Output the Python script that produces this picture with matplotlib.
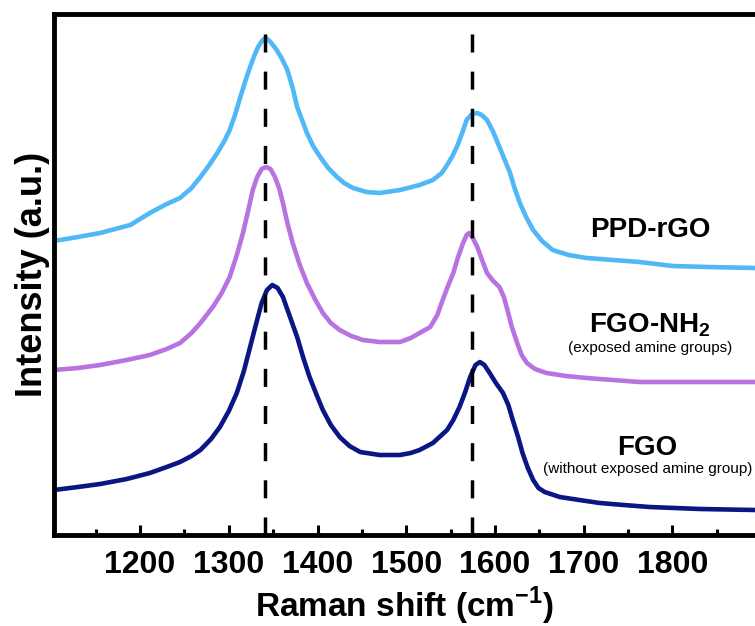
import matplotlib
matplotlib.use('Agg')
import matplotlib.pyplot as plt
from matplotlib.ticker import MultipleLocator

plt.rcParams['font.family'] = 'Liberation Sans'
plt.rcParams['mathtext.fontset'] = 'custom'
plt.rcParams['mathtext.rm'] = 'Liberation Sans'
plt.rcParams['mathtext.bf'] = 'Liberation Sans:bold'

# Raman shift (cm-1) / offset intensity (a.u.)
ppd_x = [1103, 1130, 1155, 1189, 1211, 1230, 1245, 1258, 1268, 1278, 1287,
         1295, 1301, 1307, 1313, 1319, 1324, 1329, 1333, 1338, 1342, 1347,
         1354, 1360, 1366, 1372, 1377, 1383, 1388, 1395, 1403, 1412, 1422,
         1430, 1440, 1455, 1470, 1493, 1515, 1530, 1540, 1546, 1552, 1557,
         1563, 1568, 1574, 1580, 1585, 1591, 1598, 1605, 1611, 1617, 1622,
         1628, 1635, 1643, 1653, 1665, 1683, 1703, 1733, 1763, 1800, 1840,
         1893]
ppd_y = [294, 298, 302, 310, 322, 331, 337, 347, 358, 370, 382,
         394, 405, 420, 438, 455, 468, 480, 488, 495, 497, 493,
         485, 476, 465, 447, 428, 414, 402, 389, 378, 367, 358,
         352, 347, 343, 342, 345, 350, 355, 362, 370, 379, 388,
         402, 415, 421, 422, 420, 415, 403, 388, 375, 362, 347,
         332, 318, 305, 294, 285, 280, 277, 275, 273, 269, 268,
         267]

nh2_x = [1103, 1130, 1155, 1185, 1211, 1230, 1245, 1258, 1268, 1282, 1292,
         1301, 1309, 1316, 1322, 1327, 1332, 1337, 1342, 1347, 1352, 1357,
         1361, 1366, 1372, 1380, 1388, 1397, 1406, 1415, 1425, 1438, 1451,
         1470, 1493, 1505, 1515, 1527, 1535, 1541, 1547, 1553, 1558, 1564,
         1568, 1571, 1575, 1580, 1585, 1591, 1598, 1605, 1610, 1614, 1619,
         1625, 1630, 1636, 1645, 1658, 1680, 1703, 1733, 1763, 1820, 1893]
nh2_y = [165, 167, 170, 175, 180, 186, 192, 202, 212, 228, 242,
         258, 280, 302, 325, 345, 358, 366, 368, 366, 358, 346,
         332, 312, 292, 270, 252, 236, 222, 212, 205, 199, 195,
         193, 193, 197, 202, 208, 220, 235, 249, 262, 277, 292,
         300, 302, 297, 288, 276, 262, 254, 248, 238, 225, 208,
         192, 180, 172, 166, 162, 159, 157, 155, 153, 153, 153]

fgo_x = [1103, 1130, 1155, 1185, 1211, 1230, 1245, 1258, 1268, 1280, 1290,
         1300, 1309, 1317, 1324, 1331, 1337, 1343, 1349, 1355, 1361, 1369,
         1377, 1384, 1391, 1399, 1406, 1415, 1425, 1436, 1448, 1470, 1493,
         1505, 1515, 1530, 1546, 1553, 1560, 1566, 1572, 1578, 1583, 1588,
         1594, 1601, 1609, 1615, 1620, 1626, 1631, 1637, 1643, 1649, 1656,
         1673, 1695, 1718, 1745, 1774, 1831, 1893]
fgo_y = [45, 48, 51, 56, 62, 68, 73, 79, 85, 96, 108,
         124, 142, 164, 188, 212, 232, 245, 250, 247, 238, 218,
         198, 177, 158, 140, 125, 110, 98, 89, 83, 80, 80,
         82, 85, 92, 105, 115, 128, 142, 158, 170, 173, 170,
         162, 152, 142, 130, 115, 98, 82, 67, 55, 47, 43,
         38, 35, 32, 30, 28, 26, 25]

d_band = 1341
g_band = 1574

fig = plt.figure(figsize=(7.55, 6.26), dpi=100)
ax = fig.add_axes([54 / 755, 91 / 626, 701 / 755, 521 / 626])

ax.plot(ppd_x, ppd_y, color='#50b8f6', lw=3.3, solid_joinstyle='round')
ax.plot(nh2_x, nh2_y, color='#b873e0', lw=3.3, solid_joinstyle='round')
ax.plot(fgo_x, fgo_y, color='#0b1583', lw=3.3, solid_joinstyle='round')

for xv in (d_band, g_band):
    ax.axvline(xv, color='black', lw=2.5, dashes=(5.2, 5.5))

ax.set_xlim(1103, 1893)
ax.set_ylim(0, 521)

ax.text(1775, 298, 'PPD-rGO', ha='center', va='baseline',
        fontsize=20, fontweight='bold')
ax.text(1774, 203, r'FGO-NH$_\mathbf{2}$', ha='center', va='baseline',
        fontsize=20, fontweight='bold')
ax.text(1775, 183, '(exposed amine groups)', ha='center', va='baseline',
        fontsize=11)
ax.text(1772, 80, 'FGO', ha='center', va='baseline',
        fontsize=20, fontweight='bold')
ax.text(1772, 62, '(without exposed amine group)', ha='center',
        va='baseline', fontsize=11)

for s in ax.spines.values():
    s.set_linewidth(3.5)
ax.spines['right'].set_visible(False)

ax.xaxis.set_major_locator(MultipleLocator(100))
ax.xaxis.set_minor_locator(MultipleLocator(50))
ax.tick_params(axis='x', which='major', direction='in', length=7.5,
               width=2.2, labelsize=23, pad=11)
ax.tick_params(axis='x', which='minor', direction='in', length=4.5,
               width=2.2)
for lbl in ax.get_xticklabels():
    lbl.set_fontweight('bold')
ax.set_yticks([])

ax.set_xlabel(r'Raman shift (cm$^\mathbf{-1}$)', fontsize=24,
              fontweight='bold', labelpad=3)
ax.set_ylabel('Intensity (a.u.)', fontsize=26, fontweight='bold',
              labelpad=3)

fig.savefig('out.png', dpi=100)
